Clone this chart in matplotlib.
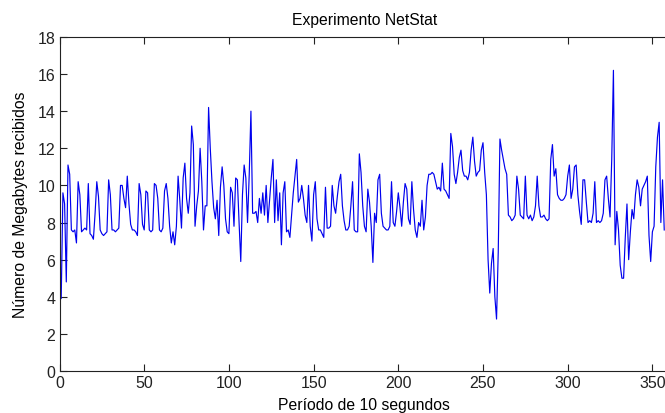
import numpy as np
import matplotlib
matplotlib.use('Agg')
import matplotlib.pyplot as plt

# Megabytes received per 10 s period
mb_0 = [6.8, 3.9, 9.6, 9.0, 4.8, 11.1, 10.6, 7.6, 7.5, 7.6,
        6.9, 10.2, 9.5, 7.5, 7.6, 7.7, 7.6, 10.1, 7.4, 7.3,
        7.1, 8.5, 10.2, 9.4, 7.6, 7.4, 7.3, 7.4, 7.5, 10.3,
        9.5, 7.6, 7.6, 7.5, 7.6, 7.7, 10.0, 10.0, 9.3, 8.8,
        10.5, 9.0, 7.9, 7.6, 7.6, 7.5, 7.3, 10.1, 9.5, 7.9]
mb_50 = [7.6, 9.7, 9.6, 7.6, 7.5, 7.6, 10.1, 10.0, 9.3, 7.6,
         7.5, 7.7, 9.7, 10.1, 9.3, 7.8, 6.9, 7.5, 6.8, 7.8,
         10.5, 9.2, 7.7, 10.4, 11.2, 9.3, 8.5, 9.6, 13.2, 12.2,
         7.8, 8.9, 9.7, 12.0, 10.2, 7.6, 8.9, 8.9, 14.2, 12.0,
         10.2, 8.8, 8.2, 9.2, 7.3, 9.9, 11.0, 10.0, 8.2, 7.5]
mb_100 = [7.4, 9.9, 9.6, 7.8, 10.4, 10.3, 8.0, 5.9, 9.5, 11.1,
          10.4, 8.0, 10.6, 14.0, 8.5, 8.5, 8.6, 8.0, 9.3, 8.5,
          9.6, 8.4, 10.0, 8.0, 9.2, 10.4, 11.4, 8.0, 10.3, 8.1,
          9.6, 6.8, 9.6, 10.2, 7.5, 7.6, 7.2, 8.4, 9.6, 10.5,
          11.4, 9.1, 9.3, 10.0, 9.3, 8.4, 8.0, 10.0, 7.8, 7.0]
mb_150 = [9.5, 10.2, 8.2, 7.6, 7.6, 7.4, 7.2, 9.9, 7.7, 7.7,
          7.8, 10.0, 8.9, 8.5, 9.4, 10.2, 10.6, 8.9, 8.1, 7.6,
          7.6, 7.8, 8.9, 10.2, 7.6, 7.5, 7.5, 11.7, 10.7, 8.9,
          7.8, 7.5, 9.8, 9.1, 7.8, 5.85, 8.5, 8.0, 10.3, 10.6,
          8.5, 7.8, 7.7, 7.6, 7.6, 7.8, 10.2, 8.0, 7.8, 8.6]
mb_200 = [9.6, 8.8, 7.8, 9.1, 10.1, 9.8, 8.2, 7.9, 10.2, 8.7,
          7.6, 7.2, 8.0, 7.8, 9.2, 7.6, 8.3, 10.0, 10.6, 10.6,
          10.7, 10.6, 10.2, 9.8, 9.9, 9.7, 11.2, 9.8, 9.7, 9.5,
          9.3, 12.8, 12.1, 10.6, 10.1, 10.7, 11.5, 11.9, 10.8, 10.5,
          10.5, 10.3, 10.7, 11.9, 12.6, 11.3, 10.5, 10.7, 10.8, 11.9]
mb_250 = [12.3, 10.7, 9.5, 6.0, 4.2, 5.8, 6.6, 4.0, 2.8, 6.4,
          12.5, 11.9, 11.4, 10.9, 10.6, 8.4, 8.3, 8.1, 8.2, 8.4,
          10.5, 9.8, 8.4, 8.3, 8.2, 10.5, 8.4, 8.2, 8.4, 8.1,
          8.3, 8.9, 10.5, 8.9, 8.3, 8.3, 8.4, 8.2, 8.1, 8.2,
          11.4, 12.2, 10.5, 10.9, 9.5, 9.3, 9.2, 9.2, 9.3, 9.5]
mb_300 = [10.5, 11.1, 9.3, 9.8, 11.0, 11.1, 9.5, 8.6, 7.9, 10.3,
          10.3, 9.1, 8.0, 8.1, 8.0, 8.5, 10.2, 8.0, 8.1, 8.0,
          8.1, 8.5, 10.3, 10.5, 9.3, 8.3, 11.4, 16.2, 6.8, 8.6,
          7.6, 5.7, 5.0, 5.0, 7.2, 9.0, 6.0, 7.5, 8.7, 8.2,
          9.5, 10.3, 9.9, 8.9, 9.8, 10.0, 10.2, 10.5, 7.3, 5.9,
          7.5, 7.8, 11.0, 12.6, 13.4, 8.0, 10.3, 7.6]

megabytes = mb_0 + mb_50 + mb_100 + mb_150 + mb_200 + mb_250 + mb_300
periods = np.arange(len(megabytes))

xticks = [0, 50, 100, 150, 200, 250, 300, 350]
yticks = [0, 2, 4, 6, 8, 10, 12, 14, 16, 18]

plt.rcParams['font.family'] = ['Liberation Sans', 'DejaVu Sans']

fig = plt.figure(figsize=(6.65, 4.14), dpi=100)
# axes runs past the right edge, like the cropped screenshot
ax = fig.add_axes([0.0895, 0.1014, 0.917, 0.807])

ax.plot(periods, megabytes, color='#0000ee', linewidth=0.85)

ax.set_xlim(0, 360)
ax.set_ylim(0, 18)
ax.set_xticks(xticks)
ax.set_yticks(yticks)
ax.tick_params(direction='in', length=5, width=0.8, labelsize=11.5,
               top=True, right=False, pad=3, colors='#222222')
for s in ax.spines.values():
    s.set_linewidth(0.8)
    s.set_color('#222222')

ax.set_title('Experimento NetStat', fontsize=11.3, pad=9)
ax.set_xlabel('Período de 10 segundos', fontsize=11.3, labelpad=5)
ax.set_ylabel('Número de Megabytes recibidos', fontsize=11.3, labelpad=7)

fig.savefig('out.png', dpi=100)
